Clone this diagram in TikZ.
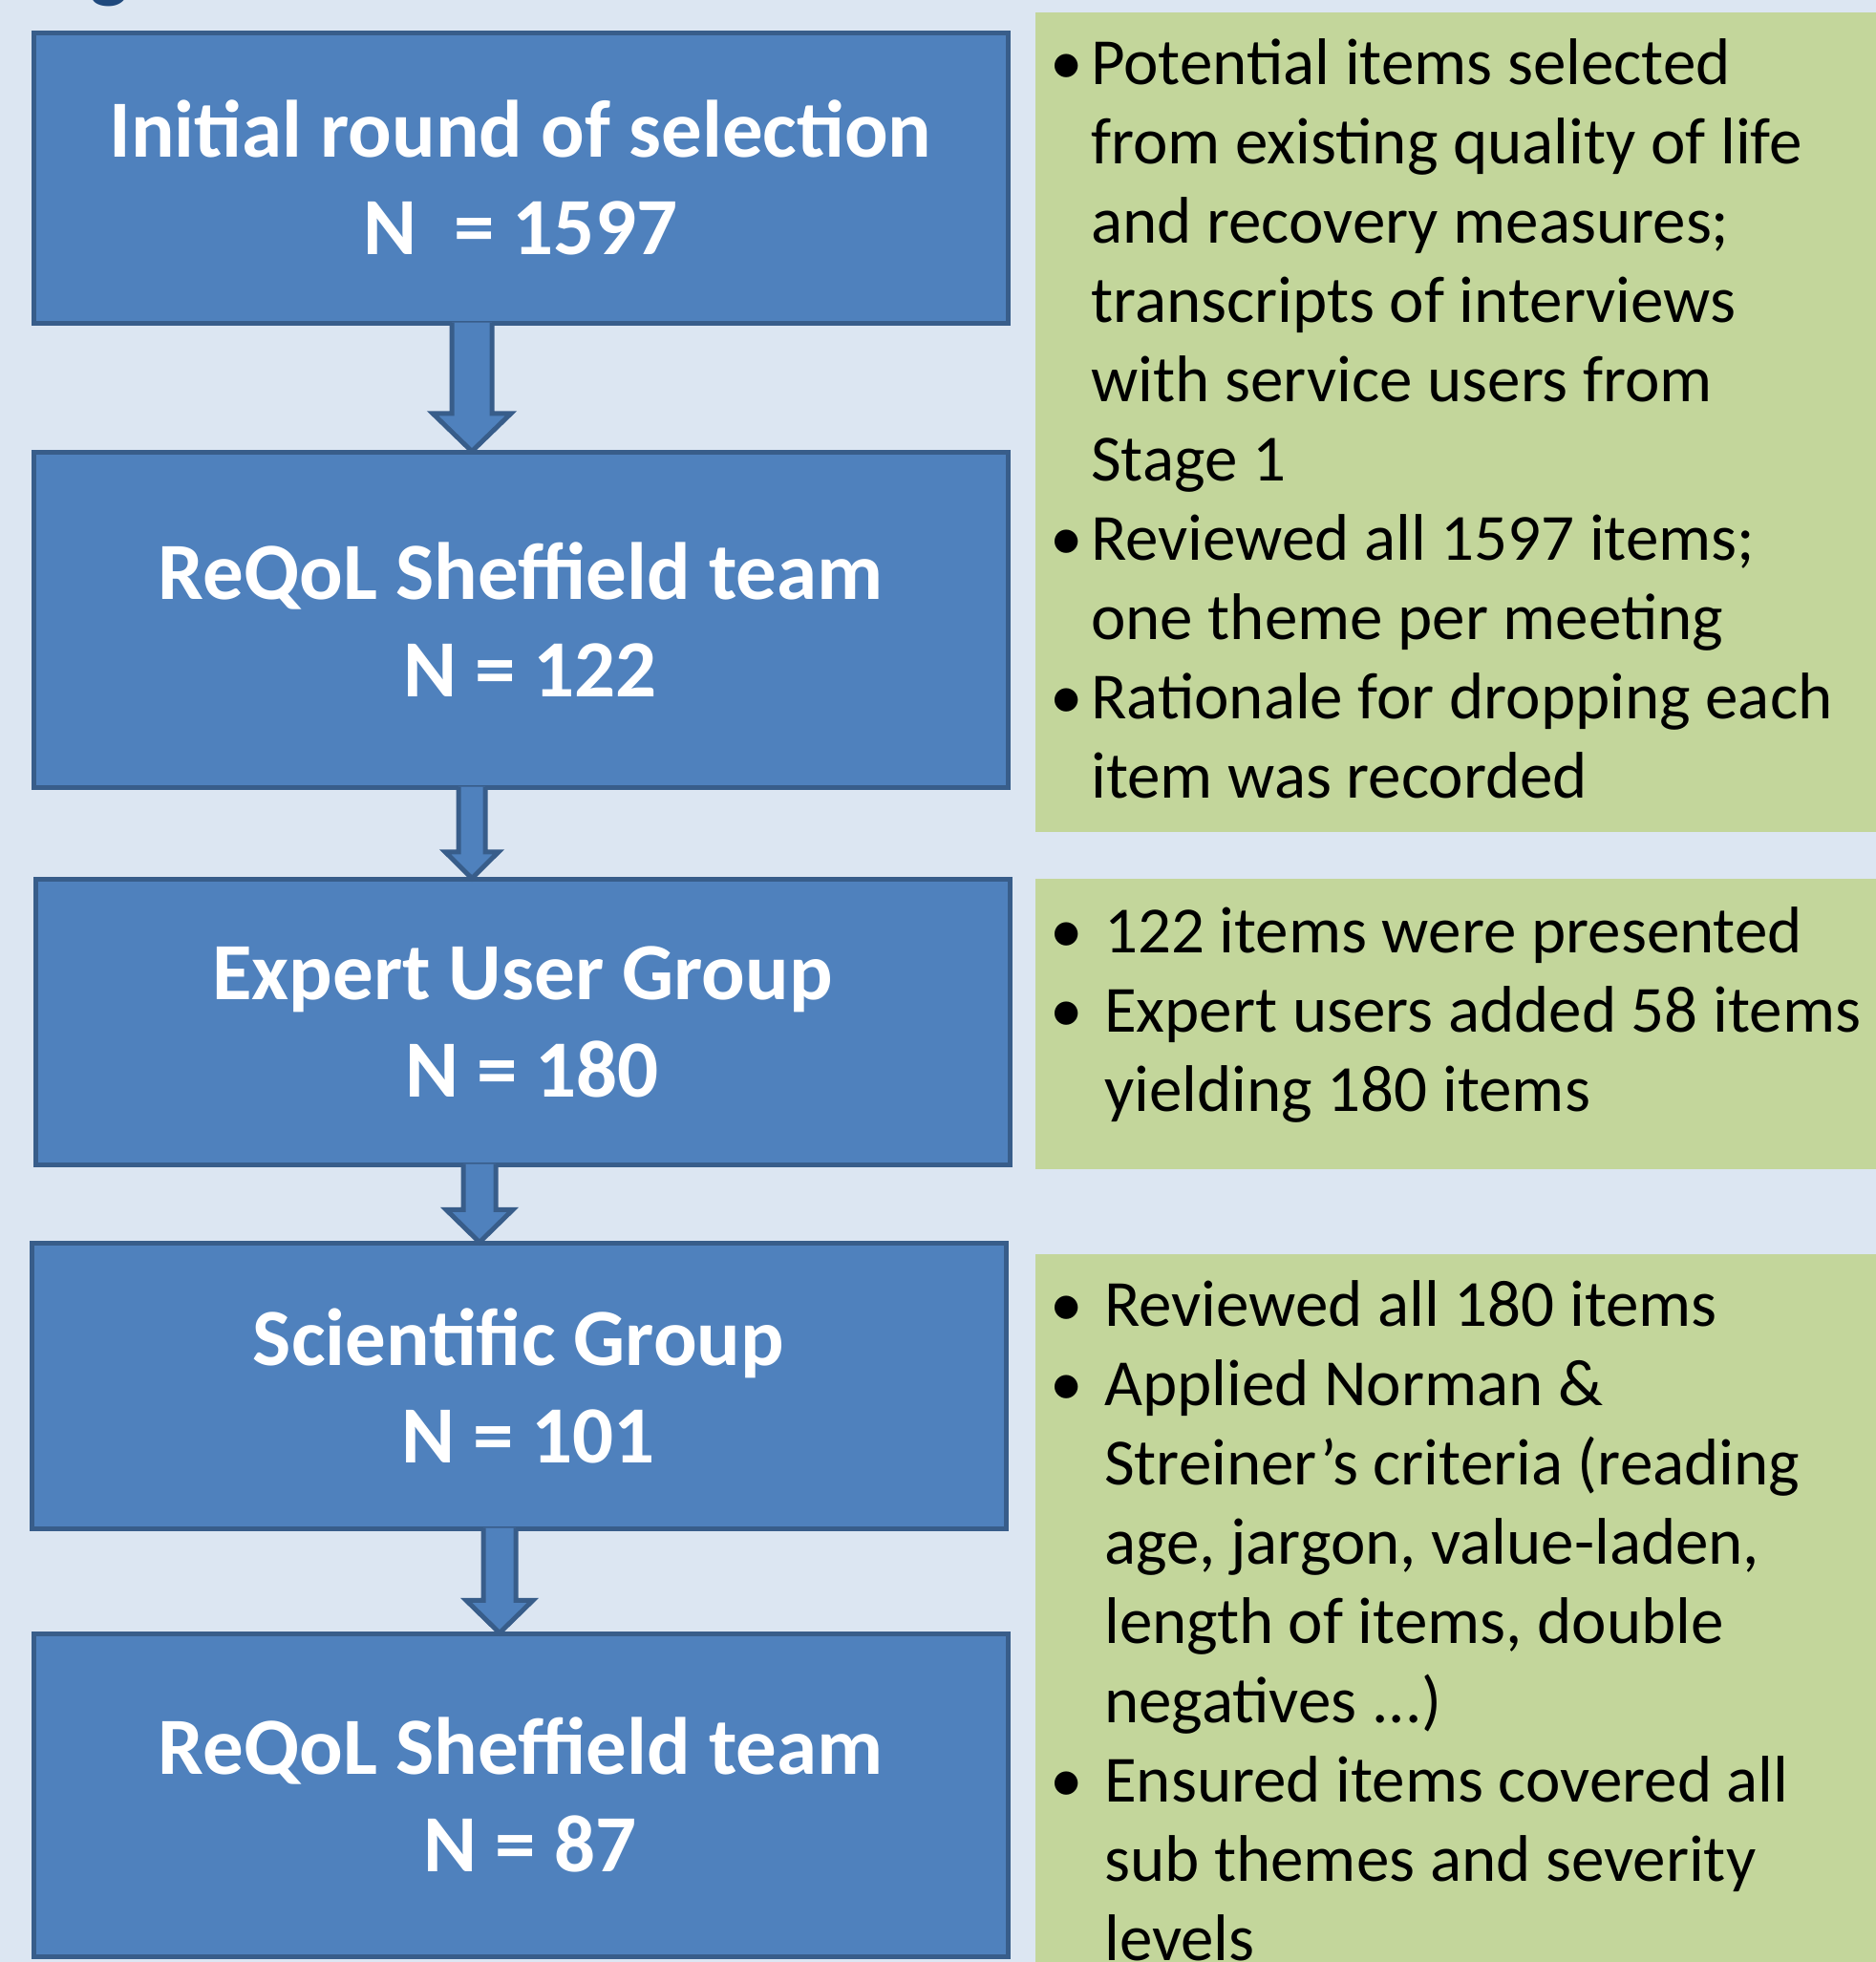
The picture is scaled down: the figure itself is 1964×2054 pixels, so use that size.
\documentclass[tikz,border=0pt]{standalone}
\usepackage{fontspec}
\setmainfont{Carlito}
\usepackage{xcolor}
\usepackage{tikz}
\usetikzlibrary{calc}

\definecolor{bgblue}{HTML}{DCE6F2}
\definecolor{boxblue}{HTML}{4F81BD}
\definecolor{edgeblue}{HTML}{385D8A}
\definecolor{notegreen}{HTML}{C3D69B}
\definecolor{titleblue}{HTML}{1F497D}

\newcommand\bitem[1]{\par\spaceskip=0pt\xspaceskip=0pt\hangindent=#1\hangafter=1\noindent\makebox[#1][l]{\strut•}}
\newcommand\nline{\hspace*{20pt}}
% #1 from, #2 to, #3 x, #4 shaft half width, #5 head half width
\newcommand\flowarrow[5]{%
  \draw[flow] let \p1=(#1.south), \p2=(#2.north), \n1={0.92*#5} in
    ({#3pt-#4pt},{\y1+3pt}) -- ({#3pt-#4pt},{\y2+\n1*1pt}) -- ({#3pt-#5pt},{\y2+\n1*1pt})
    -- ({#3pt},{\y2-2pt}) -- ({#3pt+#5pt},{\y2+\n1*1pt}) -- ({#3pt+#4pt},{\y2+\n1*1pt})
    -- ({#3pt+#4pt},{\y1+3pt});}

\begin{document}
\begin{tikzpicture}[x=1pt, y=-1pt,
  stage/.style={draw=edgeblue, line width=5pt, fill=boxblue, text=white, align=center,
    minimum width=1020pt, inner sep=0pt, font=\bfseries\fontsize{85}{102}\selectfont},
  notebox/.style={fill=notegreen, minimum width=900pt, inner sep=0pt},
  notetext/.style={anchor=north west, text width=900pt, align=left, inner sep=0pt,
    font=\fontsize{69}{83}\selectfont},
  flow/.style={draw=edgeblue, line width=5pt, fill=boxblue, line join=miter}]

\clip (0,0) rectangle (1964,2054);
\fill[bgblue] (0,0) rectangle (1964,2054);
\node[anchor=base west, inner sep=0pt, text=titleblue, font=\bfseries\fontsize{85}{102}\selectfont] (title) at (94,-8) {g};

\node[stage, minimum height=304pt] (init) at (545,186) {Initial round of selection\\N~ = 1597};
\node[stage, minimum height=351pt] (team1) at (545,648.5) {ReQoL Sheffield team\\\nline N = 122};
\node[stage, minimum height=299pt] (users) at (547,1069.5) {Expert User Group\\\nline N = 180};
\node[stage, minimum height=299pt] (sci) at (543,1450.5) {Scientific Group\\\nline N = 101};
\node[stage, minimum height=338pt] (team2) at (545,1879) {ReQoL Sheffield team\\\nline N = 87};

\flowarrow{init}{team1}{494}{21}{41}
\flowarrow{team1}{users}{494}{14}{28}
\flowarrow{users}{sci}{502}{17}{35}
\flowarrow{sci}{team2}{523}{17}{35}

\node[notebox, minimum height=858pt] (note1) at (1534,442) {};
\node[notebox, minimum height=304pt] (note2) at (1534,1072) {};
\node[notebox, minimum height=787pt] (note3) at (1534,1706.5) {};

\node[notetext] (text1) at (1099,5) {\bitem{43pt}Potential items selected\newline from existing quality of life\newline and recovery measures;\newline transcripts of interviews\newline with service users from\newline Stage 1
\bitem{43pt}Reviewed all 1597 items;\newline one theme per meeting
\bitem{43pt}Rationale for dropping each\newline item was recorded\par};
\node[notetext] (text2) at (1099,914) {\bitem{57pt}122 items were presented
\bitem{57pt}Expert users added 58 items\newline yielding 180 items\par};
\node[notetext] (text3) at (1099,1305) {\bitem{57pt}Reviewed all 180 items
\bitem{57pt}Applied Norman \&\newline Streiner’s criteria (reading\newline age, jargon, value-laden,\newline length of items, double\newline negatives ...)
\bitem{57pt}Ensured items covered all\newline sub themes and severity\newline levels\par};

\end{tikzpicture}
\end{document}
